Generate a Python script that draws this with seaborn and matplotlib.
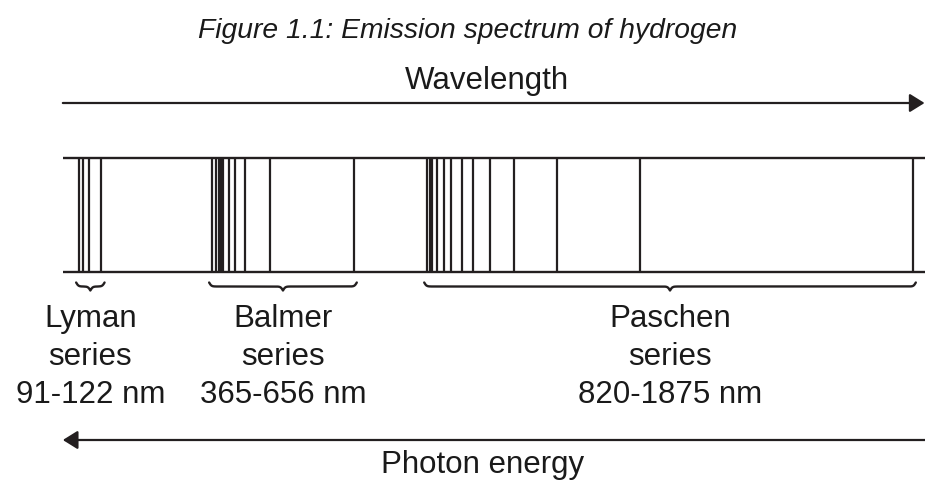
import numpy as np
import matplotlib
matplotlib.use("Agg")
import matplotlib.pyplot as plt
import matplotlib.transforms as mtransforms
import seaborn as sns

# schematic line positions along the wavelength axis (nm)
LYMAN = [58, 67, 80, 106]
BALMER = [348, 355, 362, 367, 372, 384, 397, 420, 474, 656]
PASCHEN = [817, 822, 827, 837, 853, 869, 892, 916, 953, 1006, 1099, 1280, 1875]

SERIES_NAMES = ["Lyman", "Balmer", "Paschen"]
SERIES_RANGES = ["91-122 nm", "365-656 nm", "820-1875 nm"]
SERIES_LINES = [LYMAN, BALMER, PASCHEN]

TITLE = "Figure 1.1: Emission spectrum of hydrogen"
TOP_ARROW_LABEL = "Wavelength"
BOTTOM_ARROW_LABEL = "Photon energy"

XLIM = (-115, 1902)   # wavelength range covered by the figure width
X_START = 22          # where the arrows / spectrum frame begin
INK = "#231f20"

sns.set_theme(style="white")
plt.rcParams["font.family"] = ["Liberation Sans", "DejaVu Sans"]

W, H = 925, 480
fig = plt.figure(figsize=(W / 100, H / 100), dpi=100)

# overlay axes: x in nm, y in pixels from the top
ax = fig.add_axes([0, 0, 1, 1])
ax.set_xlim(*XLIM)
ax.set_ylim(H, 0)
ax.axis("off")

# spectrum strip
top_px, bot_px = 157.7, 271.7
ax_spec = fig.add_axes([0, (H - bot_px) / H, 1, (bot_px - top_px) / H])
ax_spec.patch.set_alpha(0)
all_lines = LYMAN + BALMER + PASCHEN
sns.rugplot(x=all_lines, ax=ax_spec, height=1, color=INK, linewidth=1.6,
            expand_margins=False)
ax_spec.set_xlim(*XLIM)
ax_spec.set_ylim(0, 1)
ax_spec.hlines([0, 1], X_START, XLIM[1], color=INK, lw=1.7, clip_on=False)
ax_spec.axis("off")


def brace(ax, x0, x1, y_top, h, beta=0.4):
    xs = np.linspace(x0, x1, 801)
    mid = (x0 + x1) / 2
    d = np.minimum(xs - x0, x1 - xs)
    e = -np.abs(xs - mid)
    s = 1 / (1 + np.exp(-beta * d)) + 1 / (1 + np.exp(-beta * e))
    ax.plot(xs, y_top + (s - 0.5) * h, color=INK, lw=1.7,
            solid_capstyle="round")
    return mid


fs = 22.5
pad = 7
for name, rng, lines in zip(SERIES_NAMES, SERIES_RANGES, SERIES_LINES):
    c = brace(ax, min(lines) - pad, max(lines) + pad, 282.5, 8)
    for txt, yb in zip([name, "series", rng], [327, 365, 403]):
        ax.text(c, yb, txt, ha="center", va="baseline", fontsize=fs,
                color="#1a1a1a")

# arrows
arrow = dict(arrowstyle="-|>,head_length=0.45,head_width=0.28",
             lw=1.6, color=INK, shrinkA=0, shrinkB=0, mutation_scale=20)
ax.annotate("", xy=(XLIM[1] - 1, 103), xytext=(X_START, 103),
            arrowprops=arrow)
ax.annotate("", xy=(X_START, 440), xytext=(XLIM[1], 440),
            arrowprops=arrow)

tr = mtransforms.blended_transform_factory(ax.transAxes, ax.transData)
ax.text(0.505, 38, TITLE, transform=tr, ha="center", va="baseline",
        fontsize=20.3, style="italic", color="#1a1a1a")
ax.text(0.5265, 89, TOP_ARROW_LABEL, transform=tr, ha="center",
        va="baseline", fontsize=fs, color="#1a1a1a")
ax.text(0.522, 473, BOTTOM_ARROW_LABEL, transform=tr, ha="center",
        va="baseline", fontsize=fs, color="#1a1a1a")

fig.savefig("out.png", dpi=100, facecolor="white")
